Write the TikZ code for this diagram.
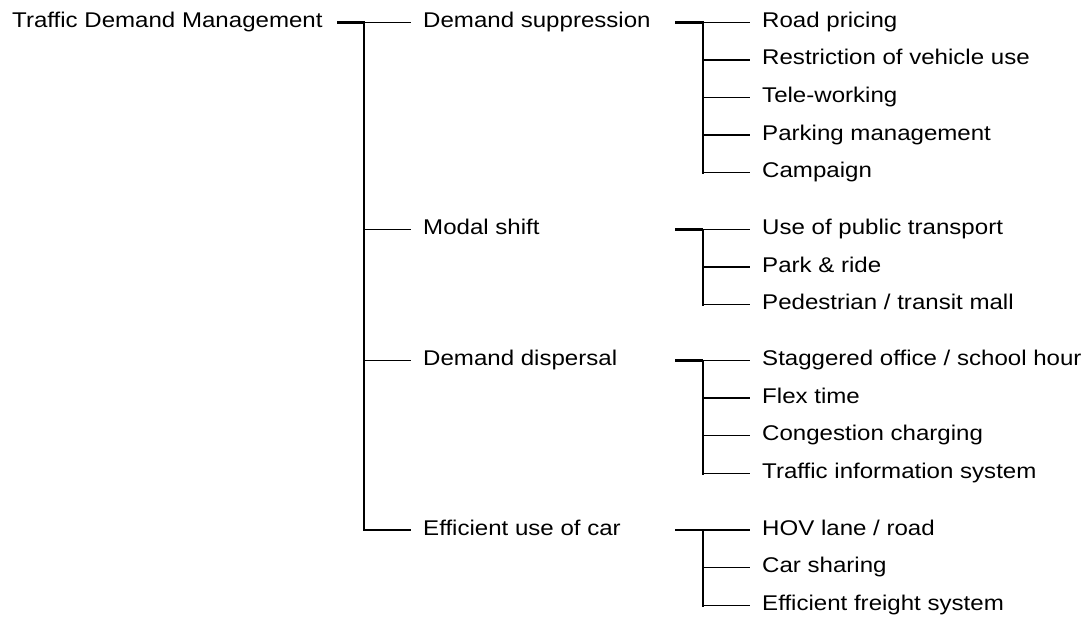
\documentclass[tikz,border=0pt]{standalone}
\usepackage{fontspec}
\setmainfont{Liberation Sans}[FakeStretch=1.13]
\begin{document}
\begin{tikzpicture}[x=1pt,y=-1pt,
  txt/.style={inner xsep=12pt, inner ysep=0pt, text height=15pt, text depth=5pt, anchor=west, font=\fontsize{21.3}{25}\selectfont},
  rootnode/.style={txt, inner xsep=0pt},
  trunk/.style={line width=2pt, line cap=rect},
  branch/.style={line width=1.6pt},
  stub/.style={line width=2.6pt}]
\useasboundingbox (0,0) rectangle (1088,618);

% root
\node[rootnode] (tdm) at (12,22.5) {Traffic Demand Management};
\coordinate (tdmS) at (337,22.5);
\coordinate (t0) at (364,22.5);
\draw[stub] (tdmS) -- (t0);

% level 1
\node[txt] (ds) at (411,22.5) {Demand suppression};
\node[txt] (ms) at (411,229.5) {Modal shift};
\node[txt] (dd) at (411,360.5) {Demand dispersal};
\node[txt] (eu) at (411,530) {Efficient use of car};
\draw[trunk] (t0) -- (t0 |- eu.west);
\foreach \n in {ds,ms,dd,eu} \draw[branch] (t0 |- \n.west) -- (\n.west);

% group 1
\coordinate (dsS) at (675,22.5);
\coordinate (dsJ) at (703,22.5);
\draw[stub] (dsS) -- (dsJ);
\node[txt] (rp) at (750,22.5) {Road pricing};
\node[txt] (rv) at (750,60) {Restriction of vehicle use};
\node[txt] (tw) at (750,97.5) {Tele-working};
\node[txt] (pm) at (750,135) {Parking management};
\node[txt] (cp) at (750,172.5) {Campaign};
\draw[trunk] (dsJ) -- (dsJ |- cp.west);
\foreach \n in {rp,rv,tw,pm,cp} \draw[branch] (dsJ |- \n.west) -- (\n.west);

% group 2
\coordinate (msS) at (675,229.5);
\coordinate (msJ) at (703,229.5);
\draw[stub] (msS) -- (msJ);
\node[txt] (pt) at (750,229.5) {Use of public transport};
\node[txt] (pr) at (750,267) {Park \& ride};
\node[txt] (pe) at (750,304.5) {Pedestrian / transit mall};
\draw[trunk] (msJ) -- (msJ |- pe.west);
\foreach \n in {pt,pr,pe} \draw[branch] (msJ |- \n.west) -- (\n.west);

% group 3
\coordinate (ddS) at (675,360.5);
\coordinate (ddJ) at (703,360.5);
\draw[stub] (ddS) -- (ddJ);
\node[txt] (so) at (750,360.5) {Staggered office / school hour};
\node[txt] (ft) at (750,398) {Flex time};
\node[txt] (cc) at (750,435.5) {Congestion charging};
\node[txt] (ti) at (750,473.5) {Traffic information system};
\draw[trunk] (ddJ) -- (ddJ |- ti.west);
\foreach \n in {so,ft,cc,ti} \draw[branch] (ddJ |- \n.west) -- (\n.west);

% group 4
\coordinate (euS) at (675,530);
\coordinate (euJ) at (703,530);
\draw[stub] (euS) -- (euJ);
\node[txt] (hov) at (750,530) {HOV lane / road};
\node[txt] (cs) at (750,567.5) {Car sharing};
\node[txt] (ef) at (750,605.5) {Efficient freight system};
\draw[trunk] (euJ) -- (euJ |- ef.west);
\foreach \n in {hov,cs,ef} \draw[branch] (euJ |- \n.west) -- (\n.west);
\end{tikzpicture}
\end{document}
